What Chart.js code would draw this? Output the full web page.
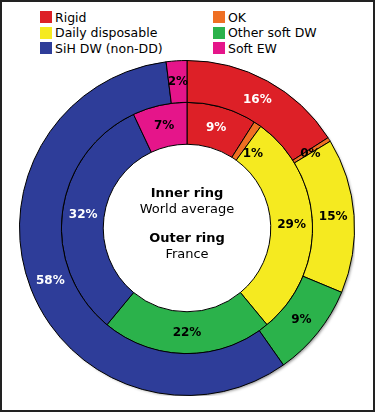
<!DOCTYPE html>
<html>
<head>
<meta charset="utf-8">
<script src="https://cdn.jsdelivr.net/npm/chart.js@4.4.1/dist/chart.umd.min.js"></script>
<style>
  html, body { margin: 0; padding: 0; background: #fff; }
  #frame {
    position: relative; width: 371px; height: 408px;
    border: 2px solid #222; background: #fff; overflow: hidden;
    font-family: "DejaVu Sans", Verdana, sans-serif;
  }
  #legend {
    position: absolute; left: 38px; top: 8px;
    display: grid; grid-template-columns: 173px 140px; row-gap: 1.5px;
    font-size: 12.5px; color: #000;
  }
  .item { display: flex; align-items: center; height: 14px; }
  .box { width: 12px; height: 12px; margin-right: 3px; }
  #wrap { position: absolute; left: 17px; top: 58px; width: 336px; height: 336px; }
</style>
</head>
<body>
<div id="frame">
  <div id="legend"></div>
  <div id="wrap"><canvas id="ringChart"></canvas></div>
</div>
<script>
const categories = ['Rigid', 'OK', 'Daily disposable', 'Other soft DW', 'SiH DW (non-DD)', 'Soft EW'];
const colors = ['#dd2027', '#ef6f23', '#f5ea20', '#2bb24b', '#2e3d99', '#e5158a'];
const franceValues = [16, 0.4, 15, 9, 58, 2];
const franceLabels = ['16%', '0%', '15%', '9%', '58%', '2%'];
const worldValues = [9, 1, 29, 22, 32, 7];
const worldLabels = ['9%', '1%', '29%', '22%', '32%', '7%'];
const labelColors = ['#fff', '#000', '#000', '#000', '#fff', '#000'];

// legend, two columns, row by row
const legendEl = document.getElementById('legend');
categories.forEach((name, i) => {
    const item = document.createElement('div');
    item.className = 'item';
    item.innerHTML = '<span class="box" style="background:' + colors[i] + '"></span><span>' + name + '</span>';
    legendEl.appendChild(item);
});

// soft grey drop shadow behind the outer ring
const ringShadow = {
    id: 'ringShadow',
    beforeDatasetsDraw(chart) {
        const arc = chart.getDatasetMeta(0).data[0];
        if (!arc) return;
        const ctx = chart.ctx;
        ctx.save();
        ctx.shadowColor = 'rgba(0,0,0,0.45)';
        ctx.shadowBlur = 3;
        ctx.shadowOffsetX = 2;
        ctx.shadowOffsetY = 2;
        ctx.fillStyle = '#fff';
        ctx.beginPath();
        ctx.arc(arc.x, arc.y, arc.outerRadius - 1, 0, Math.PI * 2);
        ctx.fill();
        ctx.restore();
    }
};

const sliceLabels = {
    id: 'sliceLabels',
    afterDatasetsDraw(chart) {
        const ctx = chart.ctx;
        const texts = [franceLabels, worldLabels];
        // the tiny OK slices: nudge label off the sliver like the original
        const okNudge = [[-1, 3], [7, 12]];
        ctx.save();
        ctx.font = 'bold 12px "DejaVu Sans", Verdana, sans-serif';
        ctx.textAlign = 'center';
        ctx.textBaseline = 'middle';
        chart.data.datasets.forEach((ds, d) => {
            chart.getDatasetMeta(d).data.forEach((arc, i) => {
                const p = arc.tooltipPosition();
                let x = p.x, y = p.y;
                if (i === 1) { x += okNudge[d][0]; y += okNudge[d][1]; }
                ctx.fillStyle = labelColors[i];
                ctx.fillText(texts[d][i], x, y);
            });
        });
        // centre captions
        const c = chart.getDatasetMeta(0).data[0];
        const cx = c.x, cy = c.y;
        ctx.fillStyle = '#000';
        ctx.font = 'bold 13px "DejaVu Sans", Verdana, sans-serif';
        ctx.fillText('Inner ring', cx, cy - 34);
        ctx.fillText('Outer ring', cx, cy + 11);
        ctx.font = '13px "DejaVu Sans", Verdana, sans-serif';
        ctx.fillText('World average', cx, cy - 18);
        ctx.fillText('France', cx, cy + 27);
        ctx.restore();
    }
};

new Chart(document.getElementById('ringChart').getContext('2d'), {
    type: 'doughnut',
    data: {
        labels: categories,
        datasets: [
            {
                label: 'France',
                data: franceValues,
                backgroundColor: colors,
                borderColor: '#000',
                borderWidth: 1
            },
            {
                label: 'World average',
                data: worldValues,
                backgroundColor: colors,
                borderColor: '#000',
                borderWidth: 1
            }
        ]
    },
    options: {
        responsive: true,
        maintainAspectRatio: false,
        animation: false,
        cutout: '50%',
        layout: { padding: 0 },
        plugins: {
            legend: { display: false },
            tooltip: { enabled: false }
        }
    },
    plugins: [ringShadow, sliceLabels]
});
</script>
</body>
</html>
